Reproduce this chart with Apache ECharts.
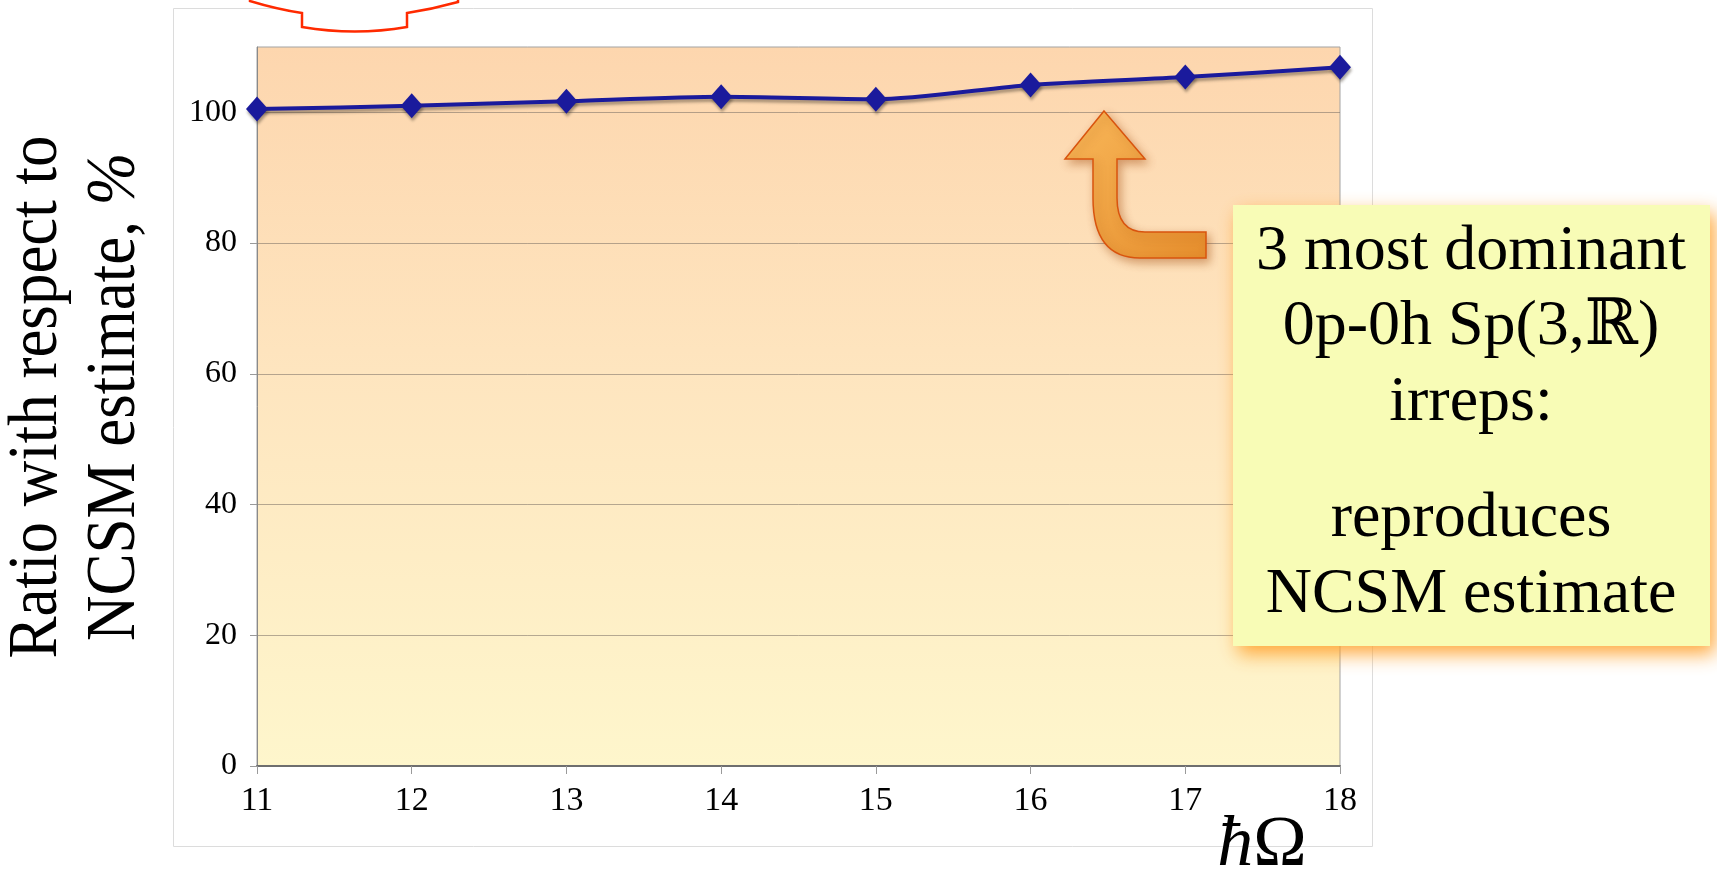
<!DOCTYPE html>
<html>
<head>
<meta charset="utf-8">
<title>Ratio with respect to NCSM estimate</title>
<script src="https://cdn.jsdelivr.net/npm/echarts@6/dist/echarts.min.js"></script>
<style>
  html, body { margin: 0; padding: 0; background: #ffffff; }
  #chart { width: 1717px; height: 876px; }
</style>
</head>
<body>
<div id="chart"></div>
<script>
// Oscillator energies (x categories) and ratio to the NCSM estimate, %
const hbarOmega = ['11', '12', '13', '14', '15', '16', '17', '18'];
const ratioPct = [100.5, 101.0, 101.7, 102.4, 102.0, 104.2, 105.4, 106.9];

// Value axis range and labelled ticks
const yMin = 0;
const yMax = 110;
const yStep = 20;
const yTicks = [0, 20, 40, 60, 80, 100];

// Axis titles
const yTitleLines = ['Ratio with respect to', 'NCSM estimate, {i|%}'];
const xTitle = '{i|ħ}{n|Ω}';

// Call-out box text
const noteLines = ['3 most dominant', '0p-0h Sp(3,ℝ)', 'irreps:', 'reproduces', 'NCSM estimate'];
const noteBaselines = [274, 349, 425, 541, 617];

const SERIF = '"Liberation Serif", "Times New Roman", "DejaVu Serif", serif';

// Decorative outline shapes
echarts.graphic.registerShape('topTab', echarts.graphic.extendPath(
  'M 250 -20 L 250 1 Q 276 9 302 13 L 302 27 Q 355 36 407 27 L 407 13 Q 433 9 458 2 L 458 -20 Z', {}
));
echarts.graphic.registerShape('bentArrow', echarts.graphic.extendPath(
  'M 1104 111 L 1145 159 L 1117 159 L 1117 198 Q 1117 232 1145 232 L 1206 232 L 1206 258 L 1140 258 Q 1093 258 1093 198 L 1093 159 L 1065 159 Z', {}
));

const chart = echarts.init(document.getElementById('chart'), null, { renderer: 'canvas' });

const noteText = noteLines.map(function (t, i) {
  return {
    type: 'text',
    z: 70,
    x: 1471,
    y: noteBaselines[i] - 22,
    style: {
      text: t,
      font: '64px ' + SERIF,
      fill: '#000000',
      align: 'center',
      verticalAlign: 'middle'
    }
  };
});

const option = {
  animation: false,
  backgroundColor: '#ffffff',
  grid: {
    left: 257,
    right: 377,
    top: 47,
    bottom: 110,
    show: true,
    borderColor: '#a3a3a3',
    borderWidth: 1,
    backgroundColor: {
      type: 'linear', x: 0, y: 0, x2: 0, y2: 1,
      colorStops: [
        { offset: 0, color: '#fdd6ae' },
        { offset: 0.45, color: '#fee5bf' },
        { offset: 1, color: '#fef6cc' }
      ]
    }
  },
  xAxis: {
    type: 'category',
    data: hbarOmega,
    boundaryGap: false,
    axisLine: { show: true, lineStyle: { color: '#6e6e6e', width: 2 } },
    axisTick: { show: true, length: 8, lineStyle: { color: '#9a9a9a' } },
    axisLabel: {
      margin: 18,
      fontFamily: SERIF,
      fontSize: 34,
      color: '#000000'
    },
    splitLine: { show: false }
  },
  yAxis: {
    type: 'value',
    min: yMin,
    max: yMax,
    interval: yStep,
    axisLine: { show: true, lineStyle: { color: '#8a8a8a', width: 1 } },
    axisTick: { show: true, length: 7, customValues: yTicks, lineStyle: { color: '#9a9a9a' } },
    axisLabel: {
      margin: 20,
      fontFamily: SERIF,
      fontSize: 32,
      color: '#000000',
      customValues: yTicks
    },
    splitLine: { show: true, lineStyle: { color: 'rgba(120,110,100,0.55)', width: 1 } }
  },
  series: [{
    type: 'line',
    data: ratioPct,
    smooth: 0.25,
    symbol: 'diamond',
    symbolSize: [22, 25],
    z: 5,
    lineStyle: {
      color: '#1a1a9c',
      width: 4,
      shadowColor: 'rgba(60,50,40,0.45)',
      shadowBlur: 3,
      shadowOffsetX: 1,
      shadowOffsetY: 3
    },
    itemStyle: {
      color: '#1a1a9c',
      shadowColor: 'rgba(60,50,40,0.45)',
      shadowBlur: 3,
      shadowOffsetX: 1,
      shadowOffsetY: 3
    }
  }],
  graphic: {
    elements: [
      // white panel behind the plot
      {
        type: 'rect',
        z: -100,
        silent: true,
        shape: { x: 173.5, y: 8.5, width: 1199, height: 838 },
        style: { fill: '#ffffff', stroke: '#dcdcdc', lineWidth: 1 }
      },
      // red outlined tab along the top edge
      {
        type: 'topTab',
        z: 50,
        silent: true,
        style: { fill: '#ffffff', stroke: '#ff2a00', lineWidth: 2.5 }
      },
      // curved orange arrow pointing at the curve
      {
        type: 'bentArrow',
        z: 50,
        silent: true,
        style: {
          fill: {
            type: 'linear', x: 0, y: 0, x2: 1, y2: 1,
            colorStops: [
              { offset: 0, color: '#f9b85a' },
              { offset: 1, color: '#e58d2c' }
            ]
          },
          stroke: '#d9540e',
          lineWidth: 1.5,
          shadowColor: 'rgba(160,70,10,0.45)',
          shadowBlur: 10,
          shadowOffsetX: 3,
          shadowOffsetY: 4
        }
      },
      // call-out box
      {
        type: 'rect',
        z: 60,
        silent: true,
        shape: { x: 1233, y: 205, width: 477, height: 441 },
        style: {
          fill: '#f8fcb6',
          shadowColor: 'rgba(255,160,40,0.9)',
          shadowBlur: 18,
          shadowOffsetX: 5,
          shadowOffsetY: 8
        }
      }
    ].concat(noteText).concat([
      // y-axis title, two lines, rotated
      {
        type: 'text',
        z: 70,
        x: 77,
        y: 397,
        rotation: Math.PI / 2,
        scaleX: 0.9,
        style: {
          text: yTitleLines.join('\n'),
          font: '70px ' + SERIF,
          fill: '#000000',
          align: 'center',
          verticalAlign: 'middle',
          lineHeight: 78,
          rich: {
            i: { fontFamily: SERIF, fontSize: 70, fontStyle: 'italic', lineHeight: 78, fill: '#000000' }
          }
        }
      },
      // x-axis title
      {
        type: 'text',
        z: 70,
        x: 1262,
        y: 846,
        style: {
          text: xTitle,
          font: '72px ' + SERIF,
          fill: '#000000',
          align: 'center',
          verticalAlign: 'middle',
          rich: {
            i: { fontFamily: SERIF, fontSize: 72, fontStyle: 'italic', fill: '#000000' },
            n: { fontFamily: SERIF, fontSize: 72, fill: '#000000' }
          }
        }
      }
    ])
  }
};

chart.setOption(option);
</script>
</body>
</html>
